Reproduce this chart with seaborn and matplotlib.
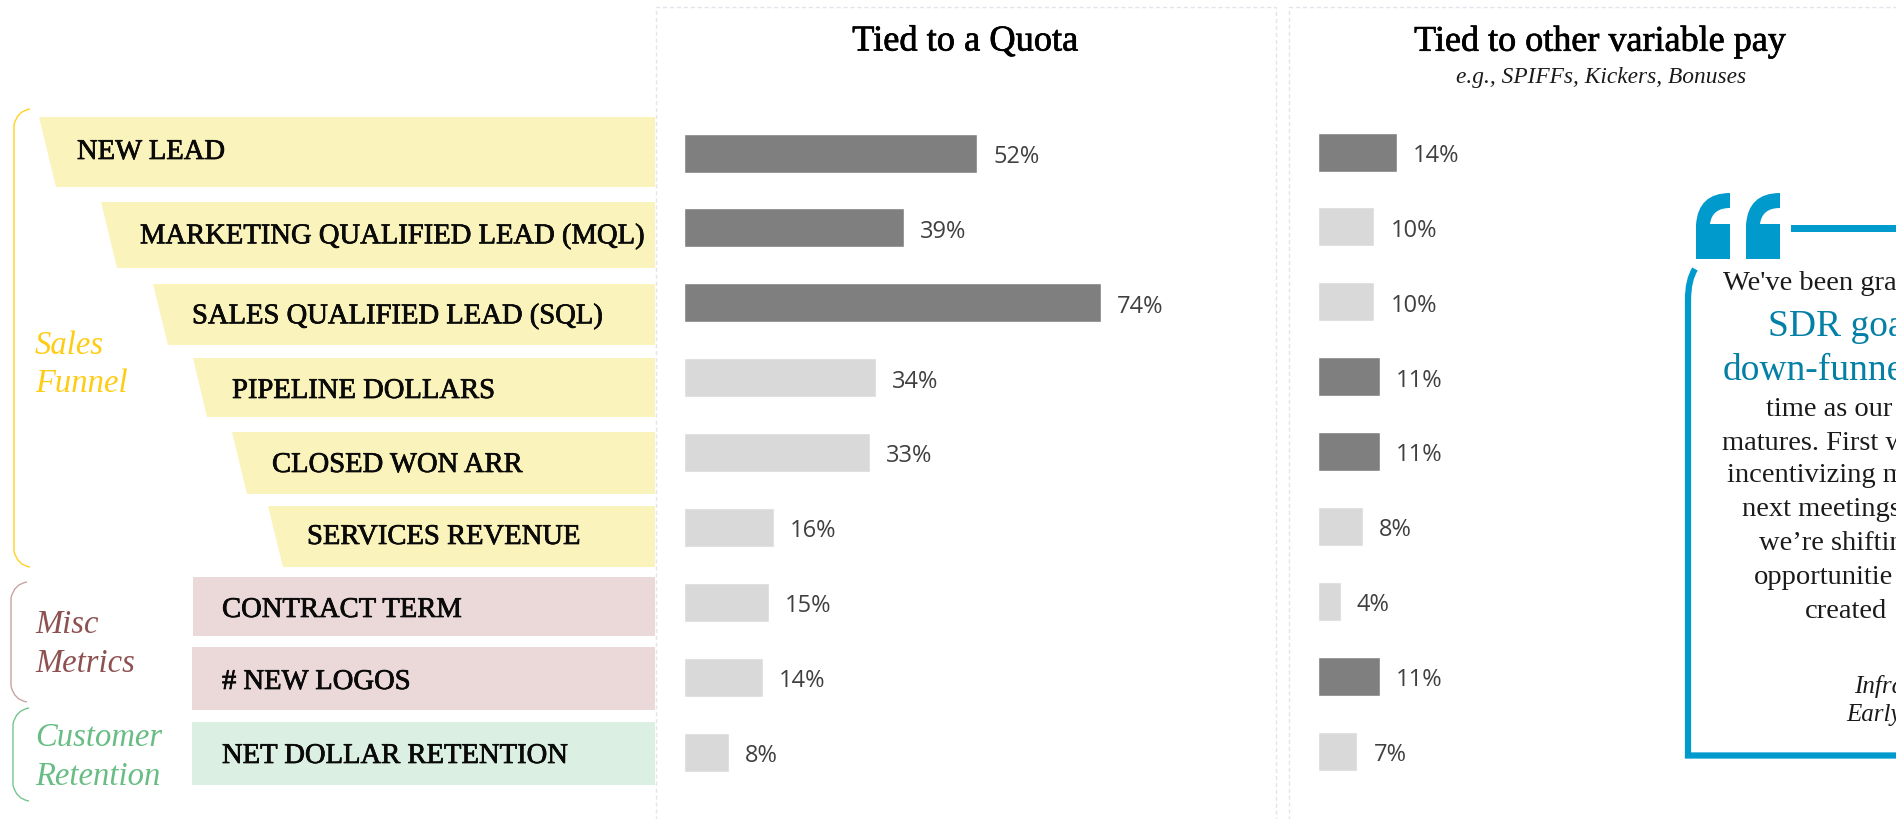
import matplotlib
matplotlib.use("Agg")
import matplotlib.pyplot as plt
import matplotlib.patheffects as pe
from matplotlib.patches import Polygon, Rectangle, PathPatch
from matplotlib.path import Path
import pandas as pd
import seaborn as sns

# ---- data ----
metrics = ["NEW LEAD", "MARKETING QUALIFIED LEAD (MQL)", "SALES QUALIFIED LEAD (SQL)",
           "PIPELINE DOLLARS", "CLOSED WON ARR", "SERVICES REVENUE",
           "CONTRACT TERM", "# NEW LOGOS", "NET DOLLAR RETENTION"]
quota_values = [52, 39, 74, 34, 33, 16, 15, 14, 8]
quota_emphasis = ["top", "top", "top", "other", "other", "other", "other", "other", "other"]
other_values = [14, 10, 10, 11, 11, 8, 4, 11, 7]
other_emphasis = ["top", "other", "other", "top", "top", "other", "other", "top", "other"]
title_quota = "Tied to a Quota"
title_other = "Tied to other variable pay"
subtitle_other = "e.g., SPIFFs, Kickers, Bonuses"

W, H = 1896, 819
SERIF = "Liberation Serif"
YELLOW, ROSE, MINT = "#FAF3BB", "#EBD8D9", "#DBF0E2"
BLUE, BLUE_TEXT = "#009ACD", "#047FA6"
palette = {"top": "#7F7F7F", "other": "#D9D9D9"}
heavy = [pe.withStroke(linewidth=0.5, foreground="black")]

sns.set_theme(style="white")
plt.rcParams["font.family"] = [SERIF, "DejaVu Sans"]
fig = plt.figure(figsize=(W / 100, H / 100), dpi=100, facecolor="white")

# full-figure pixel layer for the label bands and the decoration
bg = fig.add_axes([0, 0, 1, 1], zorder=0)
bg.set_xlim(0, W)
bg.set_ylim(H, 0)
bg.axis("off")

# panel outlines
for x0, x1 in [(656, 1276), (1289, W + 10)]:
    bg.plot([x0, x0, x1, x1], [H + 5, 6.5, 6.5, H + 5], color="#E3E5EC", lw=1, ls=(0, (3, 2)), clip_on=True)

# label bands: top-left x, bottom-left x, top y, bottom y, colour
bands = [(39, 56, 117, 187, YELLOW), (101, 117.5, 202, 268, YELLOW), (153, 168, 284, 345, YELLOW),
         (193, 207, 358, 417, YELLOW), (232, 247, 432, 494, YELLOW), (268, 283, 506, 567, YELLOW),
         (193, 193, 577, 636, ROSE), (192, 192, 647, 710, ROSE), (192, 192, 722, 785, MINT)]
for tl, bl, top, bot, c in bands:
    bg.add_patch(Polygon([(tl, top), (655.5, top), (655.5, bot), (bl, bot)], closed=True, fc=c, ec="none"))

label_pos = [(77, 149), (140, 233), (192, 313), (232, 388), (272, 462), (307, 534),
             (222, 607), (222, 679), (222, 753)]
for name, (x, y) in zip(metrics, label_pos):
    bg.text(x, y, name, fontsize=20.6, color="#0A0A0A", ha="left", va="center_baseline",
            family=SERIF, path_effects=heavy)

# group braces
def brace(x, top, bot, c, r=16):
    v = [(x + r, top), (x + 3, top + 2), (x, top + r), (x, bot - r), (x + 3, bot - 2), (x + r, bot)]
    codes = [Path.MOVETO, Path.CURVE3, Path.CURVE3, Path.LINETO, Path.CURVE3, Path.CURVE3]
    bg.add_patch(PathPatch(Path(v, codes), fc="none", ec=c, lw=1))

brace(14, 109, 567, "#FFD21F")
brace(11, 582, 702, "#C9A3A3")
brace(13, 708, 801, "#74C58D")

groups = [("Sales", 35, 342, "#FFCC14"), ("Funnel", 35, 380, "#FFCC14"),
          ("Misc", 35, 621, "#8E5152"), ("Metrics", 35, 660, "#8E5152"),
          ("Customer", 35, 734, "#67BD83"), ("Retention", 35, 773, "#67BD83")]
for t, x, y, c in groups:
    bg.text(x, y, t, fontsize=23.5, style="italic", color=c, ha="left", va="center_baseline", family=SERIF)

# titles
bg.text(965.5, 42, title_quota, fontsize=26.2, color="black", ha="center", va="center", family=SERIF, path_effects=heavy)
bg.text(1600, 42, title_other, fontsize=26.0, color="black", ha="center", va="center", family=SERIF, path_effects=heavy)
bg.text(1601, 77, subtitle_other, fontsize=16.8, style="italic", color="#1A1A1A", ha="center", va="center", family=SERIF)

# bars
PX_PER_PCT = 5.64
ROW = 74.9
def bar_axes(left, right, center0, values, emphasis):
    top = center0 - ROW / 2
    bot = top + ROW * len(values)
    ax = fig.add_axes([left / W, 1 - bot / H, (right - left) / W, (bot - top) / H], zorder=2)
    ax.patch.set_alpha(0)
    frame = pd.DataFrame({"metric": metrics, "value": values, "emphasis": emphasis})
    sns.barplot(data=frame, x="value", y="metric", hue="emphasis", hue_order=["top", "other"],
                palette=palette, dodge=False, width=39 / ROW, saturation=1, legend=False, ax=ax)
    ax.set_xlim(0, (right - left) / PX_PER_PCT)
    ax.set_axis_off()
    for cont in ax.containers:
        for lab in ax.bar_label(cont, fmt="%g%%", padding=11.5, fontsize=17, color="#404040", family="Open Sans"):
            lab.xyann = (lab.xyann[0], -2.8)
    return ax

bar_axes(684, 1276, 153, quota_values, quota_emphasis)
bar_axes(1318, W, 152, other_values, other_emphasis)

# quote frame
for x0 in (1696, 1746):
    v = [(x0, 259), (x0, 225), (x0 + 2, 193), (x0 + 34, 193), (x0 + 34, 208), (x0 + 16, 208), (x0 + 14, 224),
         (x0 + 34, 224), (x0 + 34, 259), (x0, 259)]
    codes = [Path.MOVETO, Path.LINETO, Path.CURVE3, Path.CURVE3, Path.LINETO, Path.CURVE3, Path.CURVE3,
             Path.LINETO, Path.LINETO, Path.CLOSEPOLY]
    bg.add_patch(PathPatch(Path(v, codes), fc=BLUE, ec="none"))
bg.add_patch(Rectangle((1791, 225), W - 1791 + 5, 6.5, fc=BLUE, ec="none"))
frame_path = Path([(1695, 269), (1688, 280), (1688, 300), (1688, 755.5), (W + 5, 755.5)],
                  [Path.MOVETO, Path.CURVE3, Path.CURVE3, Path.LINETO, Path.LINETO])
bg.add_patch(PathPatch(frame_path, fc="none", ec=BLUE, lw=4.5, joinstyle="miter", capstyle="butt"))

quote_lines = [("We've been gra", 1723, 280.5, 20.5, False, "normal"),
               ("SDR goa", 1768, 323, 27, True, "normal"),
               ("down-funne", 1723, 367, 27, True, "normal"),
               ("time as our", 1766, 407, 20.5, False, "normal"),
               ("matures. First w", 1722, 440, 20.5, False, "normal"),
               ("incentivizing m", 1727, 473, 20.5, False, "normal"),
               ("next meetings", 1742, 507, 20.5, False, "normal"),
               ("we\u2019re shiftin", 1759, 540, 20.5, False, "normal"),
               ("opportunitie", 1754, 575, 20.5, False, "normal"),
               ("created", 1805, 608, 20.5, False, "normal"),
               ("Infra", 1854, 684, 18, False, "italic"),
               ("Early", 1846, 713, 18, False, "italic")]
for t, x, y, fs, accent, st in quote_lines:
    bg.text(x, y, t, fontsize=fs, color=BLUE_TEXT if accent else "#1A1A1A", style=st,
            ha="left", va="center_baseline", family=SERIF)

fig.savefig("out.png", dpi=100, facecolor="white")
